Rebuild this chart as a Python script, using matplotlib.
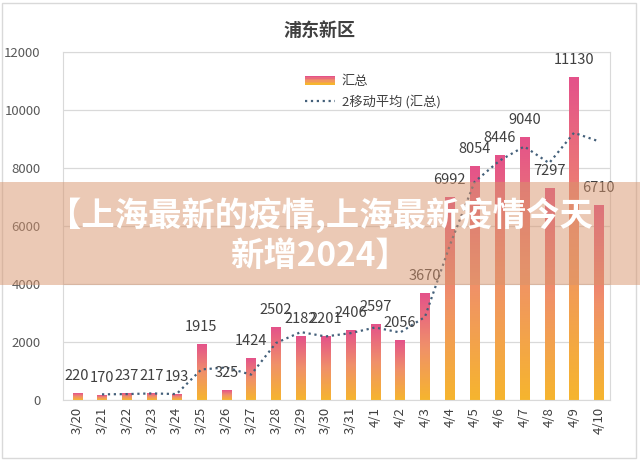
import numpy as np
import pandas as pd
import matplotlib
matplotlib.use("Agg")
import matplotlib.pyplot as plt
from matplotlib.colors import LinearSegmentedColormap
from matplotlib.legend_handler import HandlerBase
from matplotlib.patches import Rectangle
from matplotlib.lines import Line2D

plt.rcParams['font.family'] = ['Noto Sans CJK SC', 'DejaVu Sans']

# 数据
dates = ['3/20', '3/21', '3/22', '3/23', '3/24', '3/25', '3/26', '3/27', '3/28', '3/29', '3/30',
         '3/31', '4/1', '4/2', '4/3', '4/4', '4/5', '4/6', '4/7', '4/8', '4/9', '4/10']
totals = [220, 170, 237, 217, 193, 1915, 325, 1424, 2502, 2182, 2201,
          2406, 2597, 2056, 3670, 6992, 8054, 8446, 9040, 7297, 11130, 6710]

# 2移动平均 (Excel 趋势线)
moving_avg = pd.Series(totals).rolling(2).mean()

grad = LinearSegmentedColormap.from_list('g', ['#f6b52e', '#f0906a', '#e4528a'])

fig = plt.figure(figsize=(6.4, 4.68), dpi=100)
ax = fig.add_axes([63/640, 1-400/468, (610-63)/640, (400-52)/468])

x = np.arange(len(dates))
w = 0.37
grad_img = np.linspace(0, 1, 256).reshape(-1, 1)
for xi, h in zip(x, totals):
    ax.imshow(grad_img, cmap=grad, origin='lower', aspect='auto',
              extent=[xi-w/2, xi+w/2, 0, h], zorder=2)
    ax.annotate(str(h), (xi, h), xytext=(0, 12.5), textcoords='offset points',
                ha='center', va='center', fontsize=10.5, color='#404040', zorder=4)

ax.plot(x, moving_avg, linestyle=':', color='#44607a', lw=1.6, zorder=3)

ax.set_xlim(-0.57, len(dates)-0.55)
ax.set_ylim(0, 12000)
ax.set_yticks(range(0, 12001, 2000))
ax.set_xticks(x)
ax.set_xticklabels(dates, rotation=90, fontsize=9.5, color='#404040')
ax.tick_params(axis='y', labelsize=9.5, labelcolor='#595959', length=0, pad=16)
ax.tick_params(axis='x', length=0, pad=5)
ax.grid(axis='y', color='#d9d9d9', lw=0.9, zorder=0)
for s in ax.spines.values():
    s.set_color('#d9d9d9')

fig.text(0.5, 1-30/468, '浦东新区', ha='center', va='center',
         fontsize=13, fontweight='bold', color='#404040')


class GradHandler(HandlerBase):
    def create_artists(self, legend, orig, xd, yd, width, height, fontsize, trans):
        cols = [grad(v) for v in np.linspace(1, 0, 6)]
        arts = []
        for i, c in enumerate(cols):
            r = Rectangle((xd, yd + height*(1-(i+1)/6)), width, height/6,
                          facecolor=c, edgecolor='none', transform=trans)
            arts.append(r)
        return arts


h_bar = Rectangle((0, 0), 1, 1)
h_line = Line2D([], [], linestyle=':', color='#44607a', lw=1.6)
fig.legend([h_bar, h_line], ['汇总', '2移动平均 (汇总)'],
           handler_map={Rectangle: GradHandler()},
           loc='upper left', bbox_to_anchor=(293/640, 1-63/468), frameon=False,
           fontsize=9.5, labelcolor='#404040', handlelength=2.3, handleheight=0.7,
           handletextpad=0.5, labelspacing=0.5)

# 外框
fig.patches.append(Rectangle((2/640, 1-458/468), 634/640, 455/468, transform=fig.transFigure,
                             fill=False, edgecolor='#d9d9d9', lw=1))

# 横幅
fig.patches.append(Rectangle((0, 1-285/468), 1, 103/468, transform=fig.transFigure,
                             facecolor='#d8946c', alpha=0.5, edgecolor='none', zorder=10))
fig.text(0.5, 1-215/468, '【上海最新的疫情,上海最新疫情今天', ha='center', va='center',
         fontsize=24, fontweight='heavy', color='white', zorder=11)
fig.text(0.5, 1-256/468, '新增2024】', ha='center', va='center',
         fontsize=24, fontweight='heavy', color='white', zorder=11)

fig.savefig('out.png', dpi=100)
